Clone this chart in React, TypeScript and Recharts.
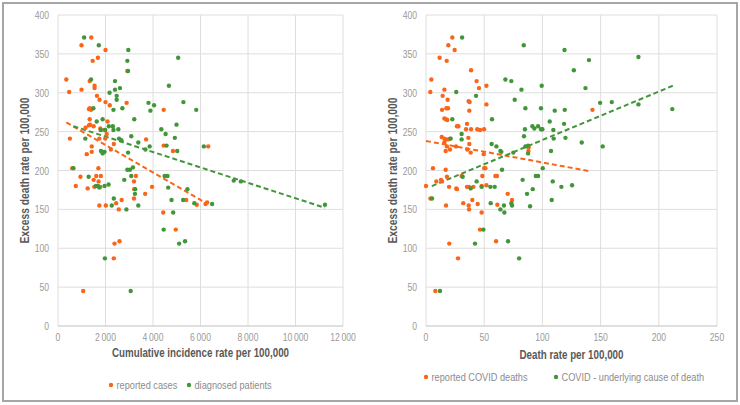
import React from 'react'
import {
  ScatterChart,
  Scatter,
  XAxis,
  YAxis,
  CartesianGrid,
  ReferenceLine,
} from 'recharts'

type Pt = [number, number]

// left panel: excess deaths vs cumulative incidence
const reportedCases: Pt[] = [
  [1400, 371], [990, 361], [2000, 355], [1680, 345], [1460, 341], [2920, 328], [350, 317],
  [1335, 315], [1540, 309], [1540, 306], [470, 301], [990, 304], [1640, 296], [1750, 291],
  [2000, 288], [2890, 287], [2180, 284], [4450, 278], [1300, 279], [1390, 278], [1340, 280],
  [1335, 266], [2085, 263], [1300, 258], [1350, 259], [1500, 257], [1780, 254], [1160, 255],
  [1950, 252], [2050, 247], [1990, 241], [1740, 241], [500, 241], [1210, 221], [1420, 224],
  [1420, 231], [2350, 234], [2225, 227], [3710, 240], [4450, 232], [4840, 225], [6325, 231],
  [600, 203], [1700, 203], [945, 192], [1610, 193], [1805, 193], [1500, 188], [750, 180],
  [1250, 177], [1710, 186], [1530, 179], [1780, 179], [3280, 193], [3200, 186], [3210, 176],
  [3960, 179], [3670, 170], [3200, 164], [2680, 162], [2450, 158], [1740, 155], [2015, 155],
  [2560, 150], [4430, 146], [5400, 162], [5840, 156], [6210, 157], [6280, 159], [4960, 124],
  [2380, 106], [2590, 109], [2350, 87], [1060, 45],
]

const diagnosedPatients: Pt[] = [
  [1100, 371], [1720, 361], [2960, 355], [2920, 341], [2950, 328], [5060, 345], [1390, 317],
  [2400, 315], [2400, 304], [2610, 306], [2170, 300], [2470, 296], [2470, 291], [4670, 309],
  [3810, 287], [4045, 284], [5280, 288], [1490, 280], [2335, 278], [2710, 280], [3890, 277],
  [5820, 278], [3210, 266], [4990, 259], [1880, 266], [1630, 263], [2140, 257], [2310, 257],
  [2540, 253], [4350, 253], [1800, 252], [1990, 252], [2335, 252], [4530, 247], [4920, 242],
  [1150, 241], [2570, 241], [2670, 239], [3380, 236], [3085, 244], [3860, 231], [3680, 227],
  [4570, 232], [5020, 225], [6140, 231], [1810, 225], [1880, 222], [1960, 224], [2950, 223],
  [650, 203], [2920, 201], [3030, 201], [3155, 204], [1290, 192], [3085, 193], [4490, 193],
  [4610, 193], [2790, 188], [1600, 180], [1680, 180], [1740, 178], [1960, 180], [2130, 182],
  [3250, 176], [3240, 170], [4640, 178], [5450, 176], [2350, 164], [2265, 155], [2880, 150],
  [3380, 155], [4780, 162], [5270, 162], [5740, 158], [6490, 157], [4850, 146], [7400, 187],
  [7700, 186], [11240, 156], [4450, 124], [5100, 106], [5350, 109], [1975, 87], [3060, 45],
]

// right panel: excess deaths vs death rate
const reportedDeaths: Pt[] = [
  [22.6, 371], [19.2, 361], [24.6, 355], [11.7, 345], [17.8, 341], [38.7, 329], [4.6, 317],
  [43.5, 315], [45.5, 306], [51.9, 309], [3.7, 301], [15.8, 304], [14.3, 296], [18.6, 291],
  [37.5, 288], [36.7, 289], [51.9, 285], [143, 278], [13.8, 278], [17.5, 280], [18.9, 280],
  [37.2, 277], [15.8, 267], [18.3, 265], [17, 266], [35.2, 260], [26.6, 257], [27.8, 257],
  [34.4, 253], [38.7, 253], [44, 253], [46.4, 252], [49.9, 253], [13.5, 243], [15.8, 241],
  [16.6, 240], [18.9, 240], [20.6, 241], [15.8, 236], [18, 231], [36.4, 242], [37.2, 234],
  [16.9, 225], [20.6, 227], [25.8, 231], [35.5, 227], [38.4, 223], [88.2, 230], [88, 225],
  [49.6, 221], [6, 203], [16.9, 201], [50, 203], [51, 203], [30.6, 193], [0, 180], [8.9, 186],
  [12.9, 188], [13.8, 186], [18, 192], [19.8, 179], [26, 177], [26.6, 176], [35.2, 179],
  [37, 179], [40.7, 179], [48.4, 193], [47.8, 180], [59.6, 193], [61, 193], [51.9, 181],
  [70.2, 170], [3.8, 164], [39.8, 162], [32, 158], [36.7, 155], [44.4, 157], [37, 150],
  [17.2, 155], [61.3, 156], [73.9, 162], [47.8, 146], [46.4, 124], [60.2, 109], [20, 106],
  [27.5, 87], [8, 45],
]

const underlyingCause: Pt[] = [
  [31, 371], [84, 361], [119, 355], [182.5, 346], [140, 342], [127, 329], [68.2, 317],
  [73.3, 315], [99.4, 309], [82, 304], [137, 306], [26, 301], [43, 296], [76.2, 291],
  [85.4, 280], [98.8, 280], [110.6, 277], [119.2, 278], [149.6, 287], [159.6, 288],
  [182.5, 285], [211.6, 279], [22.6, 266], [56.7, 266], [106.3, 263], [118.6, 260],
  [91.4, 257], [96.3, 257], [93.1, 254], [85, 253], [98.8, 253], [100, 253], [109.4, 252],
  [30.6, 247], [30.6, 240], [21.2, 241], [84.2, 244], [85.4, 231], [87.7, 232], [87.7, 222],
  [109.7, 241], [119.8, 242], [133.8, 236], [151.8, 231], [56.4, 234], [60.5, 231],
  [63.9, 225], [64.7, 224], [75, 223], [107.4, 225], [100.3, 203], [65.3, 201], [31.5, 192],
  [43.5, 186], [38.4, 177], [47.8, 179], [55.3, 179], [59, 179], [83, 188], [94.3, 193],
  [96.3, 193], [108.9, 186], [116.3, 179], [125.5, 181], [91.7, 176], [86.8, 170], [108, 162],
  [89.4, 154], [55.6, 158], [63.9, 150], [67.3, 146], [67, 155], [73.3, 158], [73.9, 155],
  [5.2, 164], [49.3, 124], [70.5, 109], [42.1, 106], [80, 87], [12, 45],
]

// trend line end points
const casesTrend: Pt[] = [[350, 262], [6300, 157]]
const patientsTrend: Pt[] = [[650, 257], [11240, 152]]
const reportedDeathsTrend: Pt[] = [[0, 238], [141, 199]]
const underlyingTrend: Pt[] = [[5, 180], [212, 309]]

const incidenceTicks = [0, 2000, 4000, 6000, 8000, 10000, 12000]
const deathRateTicks = [0, 50, 100, 150, 200, 250]
const excessTicks = [0, 50, 100, 150, 200, 250, 300, 350, 400]

const ORANGE = '#f9661a'
const GREEN = '#41963a'
const FONT = '"Liberation Sans", Arial, sans-serif'
const TICK_GREY = '#9a9a9a'
const TITLE_GREY = '#595959'
const LEGEND_GREY = '#8c8c8c'

const toObjs = (pts: Pt[]) => pts.map(([x, y]) => ({ x, y }))
const spaced = (v: number) => String(v).replace(/\B(?=(\d{3})+(?!\d))/g, '\u2009')

const Dot = (color: string) => (props: any) => (
  <circle cx={props.cx} cy={props.cy} r={2.2} fill={color} />
)

// no Arial Narrow here, so squeeze the text horizontally instead
const XTick = (props: any) => (
  <text
    transform={`translate(${props.x},${props.y + 15}) scale(0.82,1)`}
    textAnchor="middle"
    fontSize={10.5}
    fontFamily={FONT}
    fill={TICK_GREY}
  >
    {spaced(props.payload.value)}
  </text>
)

const YTick = (props: any) => (
  <text
    transform={`translate(${props.x - 9},${props.y + 4}) scale(0.82,1)`}
    textAnchor="end"
    fontSize={10.5}
    fontFamily={FONT}
    fill={TICK_GREY}
  >
    {props.payload.value}
  </text>
)

type PanelProps = {
  xDomain: [number, number]
  xTicks: number[]
  xTitle: string
  xTitleLen: number
  xTitleY: number
  orange: Pt[]
  green: Pt[]
  orangeTrend: Pt[]
  greenTrend: Pt[]
  margin: { top: number; right: number; left: number; bottom: number }
  yTitleX: number
}

function Panel(p: PanelProps) {
  const xTitle = (lp: any) => {
    const vb = lp.viewBox
    return (
      <text
        x={vb.x + vb.width / 2}
        y={p.xTitleY}
        textAnchor="middle"
        fontSize={12.5}
        fontWeight={700}
        fontFamily={FONT}
        fill={TITLE_GREY}
        textLength={p.xTitleLen}
        lengthAdjust="spacingAndGlyphs"
      >
        {p.xTitle}
      </text>
    )
  }
  const yTitle = (lp: any) => {
    const vb = lp.viewBox
    const cy = vb.y + vb.height / 2
    return (
      <text
        x={p.yTitleX}
        y={cy}
        transform={`rotate(-90, ${p.yTitleX}, ${cy})`}
        textAnchor="middle"
        fontSize={12.5}
        fontWeight={700}
        fontFamily={FONT}
        fill={TITLE_GREY}
        textLength={146}
        lengthAdjust="spacingAndGlyphs"
      >
        Excess death rate per 100,000
      </text>
    )
  }

  return (
    <ScatterChart width={370} height={405} margin={p.margin}>
      <CartesianGrid stroke="#dedede" strokeWidth={1} />
      <XAxis
        type="number"
        dataKey="x"
        domain={p.xDomain}
        ticks={p.xTicks}
        tickLine={false}
        tickSize={0}
        tickMargin={0}
        axisLine={{ stroke: '#d0d0d0' }}
        tick={XTick}
        height={40}
        label={xTitle}
      />
      <YAxis
        type="number"
        dataKey="y"
        domain={[0, 400]}
        ticks={excessTicks}
        tickLine={false}
        tickSize={0}
        tickMargin={0}
        axisLine={false}
        tick={YTick}
        width={45}
        label={yTitle}
      />
      <Scatter data={toObjs(p.orange)} fill={ORANGE} shape={Dot(ORANGE)} isAnimationActive={false} />
      <Scatter data={toObjs(p.green)} fill={GREEN} shape={Dot(GREEN)} isAnimationActive={false} />
      <ReferenceLine
        segment={toObjs(p.orangeTrend)}
        stroke={ORANGE}
        strokeWidth={2}
        strokeDasharray="5 3"
      />
      <ReferenceLine
        segment={toObjs(p.greenTrend)}
        stroke={GREEN}
        strokeWidth={2}
        strokeDasharray="5 3"
      />
    </ScatterChart>
  )
}

type LegendItem = { name: string; color: string; dotX: number }

function LegendRow({ items, y }: { items: LegendItem[]; y: number }) {
  return (
    <svg width={370} height={24} style={{ position: 'absolute', left: 0, top: y - 12 }}>
      {items.map((it) => (
        <g key={it.name}>
          <circle cx={it.dotX} cy={12} r={2.2} fill={it.color} />
          <text
            transform={`translate(${it.dotX + 5.5},16) scale(0.8,1)`}
            fontSize={11.5}
            fontFamily={FONT}
            fill={LEGEND_GREY}
          >
            {it.name}
          </text>
        </g>
      ))}
    </svg>
  )
}

export default function App() {
  return (
    <div
      style={{
        position: 'absolute',
        left: 0,
        top: 0,
        width: 740,
        height: 405,
        background: '#fff',
      }}
    >
      <div
        style={{
          position: 'absolute',
          left: 2,
          top: 2,
          width: 732,
          height: 396,
          border: '2px solid #a6a6a6',
        }}
      />
      <div style={{ position: 'absolute', left: 0, top: 0, width: 370, height: 405 }}>
        <Panel
          xDomain={[0, 12000]}
          xTicks={incidenceTicks}
          xTitle="Cumulative incidence rate per 100,000"
          xTitleLen={177}
          xTitleY={357}
          orange={reportedCases}
          green={diagnosedPatients}
          orangeTrend={casesTrend}
          greenTrend={patientsTrend}
          margin={{ top: 15, right: 27, left: 13, bottom: 39 }}
          yTitleX={29}
        />
        <LegendRow
          y={385}
          items={[
            { name: 'reported cases', color: ORANGE, dotX: 111 },
            { name: 'diagnosed patients', color: GREEN, dotX: 189 },
          ]}
        />
      </div>
      <div style={{ position: 'absolute', left: 370, top: 0, width: 370, height: 405 }}>
        <Panel
          xDomain={[0, 250]}
          xTicks={deathRateTicks}
          xTitle="Death rate per 100,000"
          xTitleLen={104}
          xTitleY={359}
          orange={reportedDeaths}
          green={underlyingCause}
          orangeTrend={reportedDeathsTrend}
          greenTrend={underlyingTrend}
          margin={{ top: 15, right: 23, left: 11, bottom: 39 }}
          yTitleX={27}
        />
        <LegendRow
          y={377}
          items={[
            { name: 'reported COVID deaths', color: ORANGE, dotX: 56 },
            { name: 'COVID - underlying cause of death', color: GREEN, dotX: 186 },
          ]}
        />
      </div>
    </div>
  )
}
